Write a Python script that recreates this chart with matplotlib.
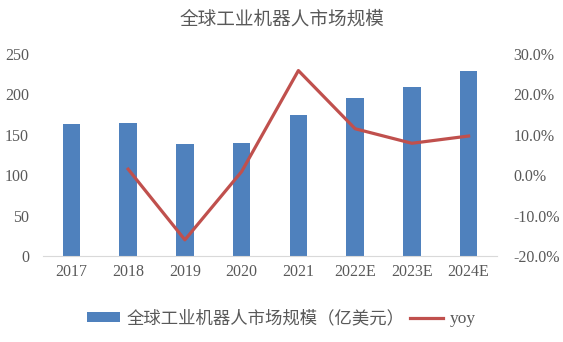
import numpy as np
import matplotlib
matplotlib.use("Agg")
import matplotlib.pyplot as plt
from matplotlib.ticker import FuncFormatter

# global industrial robot market size (100M USD) and year-on-year growth
years = ["2017", "2018", "2019", "2020", "2021", "2022E", "2023E", "2024E"]
market = [163, 164, 138, 139.5, 174.5, 195, 209.5, 229]
yoy_years = ["2018", "2019", "2020", "2021", "2022E", "2023E", "2024E"]
yoy = [1.5, -16.0, 0.9, 25.9, 11.5, 7.9, 9.7]

cjk = ["Noto Sans CJK SC", "DejaVu Sans"]
serif = ["Liberation Serif", "DejaVu Serif"]
txt = "#595959"

fig = plt.figure(figsize=(5.63, 3.42), dpi=100)
ax = fig.add_axes([43 / 563, 1 - 256 / 342, 454 / 563, 202 / 342])
ax2 = ax.twinx()

x = np.arange(len(years))
bars = ax.bar(x, market, width=0.31, color="#4F81BD",
              label="全球工业机器人市场规模（亿美元）", zorder=2)
xi = [years.index(y) for y in yoy_years]
line, = ax2.plot(xi, yoy, color="#C0504D", lw=2.3, label="yoy",
                 solid_joinstyle="round")

ax.set_xlim(-0.5, len(years) - 0.5)
ax.set_ylim(0, 250)
ax.set_yticks(range(0, 251, 50))
ax2.set_ylim(-20, 30)
ax2.set_yticks(range(-20, 31, 10))
ax2.yaxis.set_major_formatter(FuncFormatter(lambda v, p: f"{v:.1f}%"))

ax.set_xticks(x)
ax.set_xticklabels(years)

for a in (ax, ax2):
    for s in a.spines.values():
        s.set_visible(False)
    a.tick_params(length=0, colors=txt, labelsize=11.5)
    for lab in a.get_xticklabels() + a.get_yticklabels():
        lab.set_family(serif)
ax.spines["bottom"].set_visible(True)
ax.spines["bottom"].set_color("#D9D9D9")
ax.tick_params(axis="x", pad=6)
ax.tick_params(axis="y", pad=10)
ax2.tick_params(axis="y", pad=12)

fig.text(0.5, 1 - 20 / 342, "全球工业机器人市场规模", ha="center", va="center",
         fontsize=13.4, family=cjk, color=txt)

leg = fig.legend([bars, line], [bars.get_label(), "yoy"], loc="center",
                 bbox_to_anchor=(0.5, 1 - 318 / 342), ncol=2, frameon=False,
                 prop={"family": cjk, "size": 12.5}, handlelength=1.9,
                 handleheight=0.46, columnspacing=0.3, handletextpad=0.4)
for t in leg.get_texts():
    t.set_color(txt)
leg.get_texts()[1].set_family(serif)

fig.savefig("out.png", dpi=100)
